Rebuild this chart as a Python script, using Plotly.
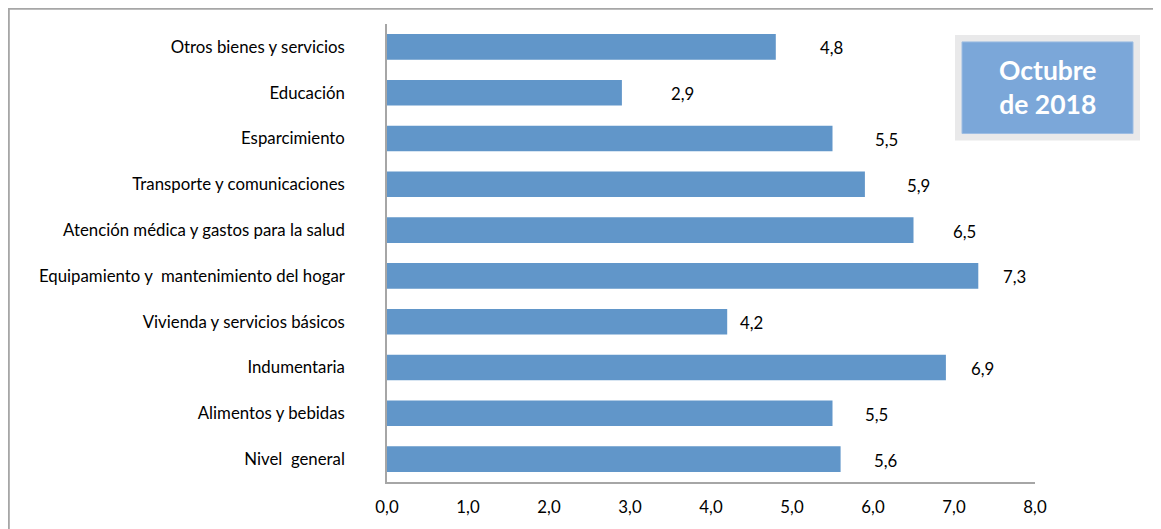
import plotly.graph_objects as go

categories = [
    "Nivel\u00a0 general",
    "Alimentos y bebidas",
    "Indumentaria",
    "Vivienda y servicios básicos",
    "Equipamiento y\u00a0 mantenimiento del hogar",
    "Atención médica y gastos para la salud",
    "Transporte y comunicaciones",
    "Esparcimiento",
    "Educación",
    "Otros bienes y servicios",
]
values = [5.6, 5.5, 6.9, 4.2, 7.3, 6.5, 5.9, 5.5, 2.9, 4.8]
x_ticks = [0, 1, 2, 3, 4, 5, 6, 7, 8]
box_text = "Octubre<br>de 2018"

# label nudges in pixels (layout only)
label_shift = [45, 44, 37, 24, 36, 51, 54, 54, 61, 56]

# page has 8px body margin; work in page coordinates and convert
OFF = 8
W, H = 1161 - OFF, 529 - OFF
L, R, T, B = 387 - OFF, 126, 24 - OFF, 45
PW, PH = W - L - R, H - T - B

def px(x):
    return (x - OFF - L) / PW

def py(y):
    return (H - B - (y - OFF)) / PH

FONT = "Lato, Carlito, Calibri, sans-serif"
FS = 16.8

fig = go.Figure()
fig.add_trace(go.Bar(
    y=categories, x=values, orientation="h",
    marker=dict(color="#6196C9", line=dict(width=0)),
    hoverinfo="skip",
))

annotations = []
for c, v, s in zip(categories, values, label_shift):
    annotations.append(dict(
        x=v, y=c, xref="x", yref="y", text=f"{v:.1f}".replace(".", ","),
        showarrow=False, xshift=s, yshift=-1, xanchor="center",
        font=dict(family=FONT, size=FS, color="#000000"),
    ))
annotations.append(dict(
    x=px(1048), y=py(87), xref="paper", yref="paper", text=box_text,
    showarrow=False, xanchor="center", yanchor="middle",
    font=dict(family=FONT, size=26.5, color="#FFFFFF", weight="bold"),
))

shapes = [
    # outer chart border
    dict(type="rect", xref="paper", yref="paper",
         x0=px(8.8), x1=px(1180), y0=py(560), y1=py(8.8),
         line=dict(color="#A6A6A6", width=2), fillcolor="rgba(0,0,0,0)", layer="below"),
    # box outer (light gray)
    dict(type="rect", xref="paper", yref="paper",
         x0=px(955), x1=px(1140), y0=py(141), y1=py(35),
         line=dict(width=0), fillcolor="#E9E9EA"),
    # box inner (blue)
    dict(type="rect", xref="paper", yref="paper",
         x0=px(962), x1=px(1133), y0=py(134), y1=py(42),
         line=dict(color="#9DBDE3", width=1), fillcolor="#7BA7D9"),
]

fig.update_layout(
    width=W, height=H,
    margin=dict(l=L, r=R, t=T, b=B, pad=0),
    paper_bgcolor="#FFFFFF", plot_bgcolor="#FFFFFF",
    separators=",.",
    bargap=0.44,
    showlegend=False,
    annotations=annotations,
    shapes=shapes,
    font=dict(family=FONT, size=FS, color="#000000"),
)
fig.update_xaxes(
    range=[0, 8], tickvals=x_ticks, tickformat=".1f",
    showgrid=False, zeroline=False,
    showline=True, linecolor="#A6A6A6", linewidth=1.5,
    ticks="", ticklabelstandoff=9,
    tickfont=dict(family=FONT, size=FS, color="#000000"),
    fixedrange=True,
)
fig.update_yaxes(
    type="category", range=[-0.5, 9.5],
    showgrid=False, zeroline=False,
    showline=True, linecolor="#A6A6A6", linewidth=1.5,
    ticks="", ticklabelstandoff=37,
    tickfont=dict(family=FONT, size=FS, color="#000000"),
    fixedrange=True,
)

fig.write_html("out.html", config={"displayModeBar": False})
